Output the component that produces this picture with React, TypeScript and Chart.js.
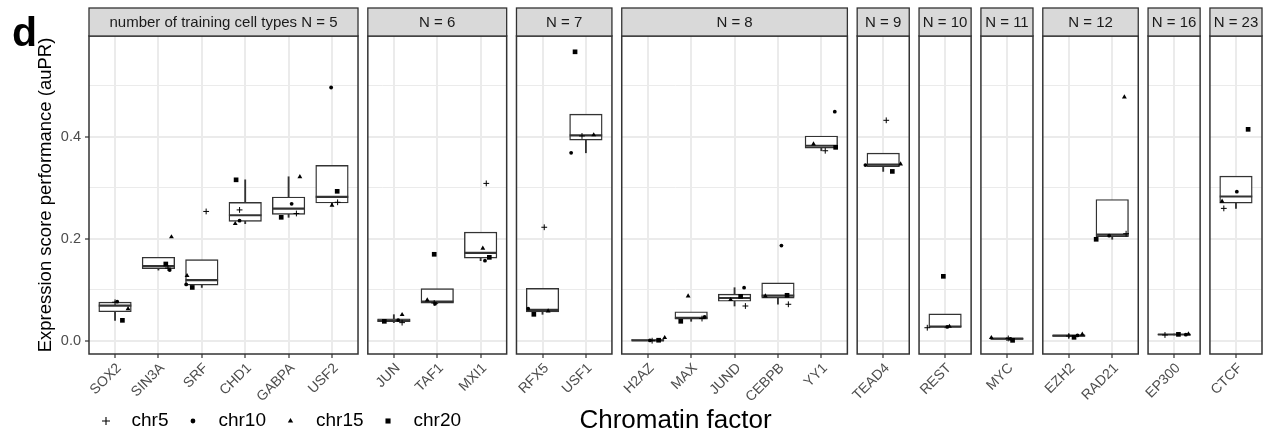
import React, { useEffect, useRef } from 'react';
import { Chart, registerables } from 'chart.js';
import { drawPoint } from 'chart.js/helpers';

Chart.register(...registerables);

// ---------------- data ----------------
const factors = ['SOX2', 'SIN3A', 'SRF', 'CHD1', 'GABPA', 'USF2', 'JUN', 'TAF1', 'MXI1', 'RFX5', 'USF1', 'H2AZ', 'MAX', 'JUND', 'CEBPB', 'YY1', 'TEAD4', 'REST', 'MYC', 'EZH2', 'RAD21', 'EP300', 'CTCF'];
const facetLabels = ['number of training cell types N = 5', 'N = 6', 'N = 7', 'N = 8', 'N = 9', 'N = 10', 'N = 11', 'N = 12', 'N = 16', 'N = 23'];
const facetSizes = [6, 3, 2, 5, 1, 1, 1, 2, 1, 1];

const seriesNames = ['chr5', 'chr10', 'chr15', 'chr20'];
const chr5 = [0.076, 0.143, 0.254, 0.257, 0.250, 0.272, 0.036, 0.0745, 0.309, 0.223, 0.402, 0.0006, 0.044, 0.0686, 0.072, 0.373, 0.4327, 0.026, 0.005, 0.0098, 0.2104, 0.0118, 0.260];
const chr10 = [0.077, 0.139, 0.111, 0.236, 0.269, 0.497, 0.041, 0.073, 0.1575, 0.0634, 0.369, 0.0012, 0.047, 0.1045, 0.187, 0.4496, 0.345, 0.0275, 0.004, 0.011, 0.2065, 0.0124, 0.2928];
const chr15 = [0.063, 0.204, 0.128, 0.230, 0.322, 0.266, 0.0516, 0.0804, 0.1817, 0.0588, 0.404, 0.0065, 0.088, 0.081, 0.0882, 0.386, 0.347, 0.0285, 0.0065, 0.013, 0.4784, 0.0137, 0.2739];
const chr20 = [0.0405, 0.151, 0.105, 0.316, 0.2425, 0.2935, 0.0386, 0.170, 0.164, 0.0523, 0.567, 0.0015, 0.0386, 0.0876, 0.0896, 0.3797, 0.3325, 0.1268, 0.0013, 0.0072, 0.1994, 0.013, 0.415];

// horizontal jitter (category units) of each point
const chr5Jitter = [0.0, 0.22, 0.10, -0.13, 0.18, 0.13, 0.19, -0.07, 0.13, 0.04, -0.09, 0.10, 0.25, 0.25, 0.24, 0.09, 0.07, -0.41, 0.03, 0.0, 0.32, -0.21, -0.28];
const chr10Jitter = [0.05, 0.26, -0.36, -0.13, 0.07, -0.02, 0.10, -0.05, 0.10, -0.33, -0.34, 0.05, 0.31, 0.22, 0.08, 0.31, -0.41, 0.05, 0.08, 0.20, -0.07, 0.27, 0.02];
const chr15Jitter = [0.30, 0.30, -0.34, -0.23, 0.26, 0.0, 0.19, -0.23, 0.05, 0.13, 0.18, 0.39, -0.07, -0.09, -0.29, -0.18, 0.40, 0.10, -0.36, 0.31, 0.28, 0.33, -0.32];
const chr20Jitter = [0.17, 0.17, -0.22, -0.21, -0.17, 0.12, -0.22, -0.07, 0.20, -0.20, -0.25, 0.25, -0.24, 0.14, 0.21, 0.33, 0.21, -0.04, 0.13, 0.12, -0.37, 0.10, 0.28];

const yTickValues = [0, 0.1, 0.2, 0.3, 0.4, 0.5];
const yMin = -0.0255;
const yMax = 0.598;

// ---------------- layout / style ----------------
const FONT = '"Liberation Sans", Arial, Helvetica, sans-serif';
const PANEL_GAP = 0.226;
const EXPAND = 0.6;
const BOX_WIDTH = 0.75;
const AREA_LEFT = 89;
const AREA_RIGHT = 1262;

const positions: number[] = [];
const panelRanges: [number, number][] = [];
{
  let cur = 0;
  facetSizes.forEach((n) => {
    panelRanges.push([cur - EXPAND, cur + n - 1 + EXPAND]);
    for (let j = 0; j < n; j++) positions.push(cur + j);
    cur += n + 0.2 + PANEL_GAP;
  });
}
const xMin = panelRanges[0][0];
const xMax = panelRanges[panelRanges.length - 1][1];
const unitPx = (AREA_RIGHT - AREA_LEFT) / (xMax - xMin);
const boxPx = BOX_WIDTH * unitPx;

const seriesStyle = [
  { pointStyle: 'cross', pointRadius: 2.9, pointBorderWidth: 1 },
  { pointStyle: 'circle', pointRadius: 1.9, pointBorderWidth: 0 },
  { pointStyle: 'triangle', pointRadius: 2.8, pointBorderWidth: 0 },
  { pointStyle: 'rect', pointRadius: 3.3, pointBorderWidth: 0 },
];
const legendGlyph = [
  { pointStyle: 'cross', radius: 4, borderWidth: 1.1 },
  { pointStyle: 'circle', radius: 2.4, borderWidth: 0 },
  { pointStyle: 'triangle', radius: 3.1, borderWidth: 0 },
  { pointStyle: 'rect', radius: 3.6, borderWidth: 0 },
];

function quantile(s: number[], p: number) {
  const h = (s.length - 1) * p;
  const lo = Math.floor(h);
  const hi = Math.ceil(h);
  return s[lo] + (h - lo) * (s[hi] - s[lo]);
}
function boxStats(vals: number[]) {
  const s = [...vals].sort((a, b) => a - b);
  const q1 = quantile(s, 0.25);
  const med = quantile(s, 0.5);
  const q3 = quantile(s, 0.75);
  const iqr = q3 - q1;
  const lo = Math.min(...s.filter((v) => v >= q1 - 1.5 * iqr));
  const hi = Math.max(...s.filter((v) => v <= q3 + 1.5 * iqr));
  return { q1, med, q3, lo, hi };
}

const facetPlugin = {
  id: 'facets',
  beforeDatasetsDraw(chart: any) {
    const { ctx, chartArea } = chart;
    const xs = chart.scales.x;
    ctx.save();
    ctx.fillStyle = '#ffffff';
    for (let i = 0; i < panelRanges.length - 1; i++) {
      const a = xs.getPixelForValue(panelRanges[i][1]);
      const b = xs.getPixelForValue(panelRanges[i + 1][0]);
      ctx.fillRect(a, chartArea.top - 1, b - a, chartArea.bottom - chartArea.top + 2);
    }
    ctx.restore();
  },
  afterDatasetsDraw(chart: any) {
    const { ctx, chartArea } = chart;
    const xs = chart.scales.x;
    ctx.save();
    panelRanges.forEach((r, i) => {
      const a = xs.getPixelForValue(r[0]);
      const b = xs.getPixelForValue(r[1]);
      ctx.strokeStyle = '#333333';
      ctx.lineWidth = 1.5;
      ctx.strokeRect(a, chartArea.top, b - a, chartArea.bottom - chartArea.top);
      const st = chartArea.top - 28;
      ctx.fillStyle = '#d9d9d9';
      ctx.fillRect(a, st, b - a, 28);
      ctx.lineWidth = 1.3;
      ctx.strokeRect(a, st, b - a, 28);
      ctx.fillStyle = '#1a1a1a';
      ctx.font = `15px ${FONT}`;
      ctx.textAlign = 'center';
      ctx.textBaseline = 'middle';
      ctx.fillText(facetLabels[i], (a + b) / 2, st + 14.5);
    });
    // panel tag
    ctx.fillStyle = '#000000';
    ctx.font = `bold 41px ${FONT}`;
    ctx.textAlign = 'left';
    ctx.textBaseline = 'alphabetic';
    ctx.fillText('d', 12, 45.5);
    // legend (shape key for the chromosome series)
    ctx.font = `19px ${FONT}`;
    ctx.textBaseline = 'middle';
    let gx = 106;
    const gy = 421;
    seriesNames.forEach((name, k) => {
      ctx.fillStyle = '#000000';
      ctx.strokeStyle = '#000000';
      ctx.lineWidth = legendGlyph[k].borderWidth;
      drawPoint(ctx, { ...legendGlyph[k], rotation: 0 } as any, gx, gy);
      const tx = gx + 25.5;
      ctx.fillStyle = '#000000';
      ctx.fillText(name, tx, gy);
      gx = tx + ctx.measureText(name).width + 24.5;
    });
    ctx.restore();
  },
};

export default function App() {
  const ref = useRef<HTMLCanvasElement>(null);
  useEffect(() => {
    const canvas = ref.current;
    if (!canvas) return;
    Chart.defaults.font.family = FONT;

    const seriesVals = [chr5, chr10, chr15, chr20];
    const seriesJit = [chr5Jitter, chr10Jitter, chr15Jitter, chr20Jitter];
    const stats = factors.map((_, i) => boxStats([chr5[i], chr10[i], chr15[i], chr20[i]]));

    const datasets: any[] = [
      {
        type: 'bar', label: 'whisker', grouped: false, order: 10,
        data: stats.map((s, i) => ({ x: positions[i], y: [s.lo, s.hi] })),
        backgroundColor: '#333333', borderWidth: 0, barThickness: 1.2,
      },
      {
        type: 'bar', label: 'box', grouped: false, order: 9,
        data: stats.map((s, i) => ({ x: positions[i], y: [s.q1, s.q3] })),
        backgroundColor: '#ffffff', borderColor: '#333333', borderWidth: 1.4, borderSkipped: false,
        barThickness: boxPx,
      },
      {
        type: 'scatter', label: 'median', order: 8,
        data: stats.map((s, i) => ({ x: positions[i], y: s.med })),
        pointStyle: 'line', pointRadius: boxPx / 2, pointBorderWidth: 2.2, pointBorderColor: '#333333',
        pointBackgroundColor: '#333333',
      },
      ...seriesNames.map((name, k) => ({
        type: 'scatter', label: name, order: k,
        data: factors.map((_, i) => ({ x: positions[i] + seriesJit[k][i], y: seriesVals[k][i] })),
        pointBackgroundColor: '#000000', pointBorderColor: '#000000',
        backgroundColor: '#000000', borderColor: '#000000',
        ...seriesStyle[k],
      })),
    ];

    const chart = new Chart(canvas, {
      type: 'bar',
      data: { datasets },
      options: {
        responsive: false,
        animation: false,
        devicePixelRatio: 1,
        events: [],
        layout: { autoPadding: false, padding: { top: 36, right: 1268 - AREA_RIGHT, bottom: 0, left: 0 } },
        plugins: {
          tooltip: { enabled: false },
          legend: { display: false },
        },
        scales: {
          x: {
            type: 'linear',
            offset: false,
            min: xMin,
            max: xMax,
            afterBuildTicks: (scale: any) => {
              scale.ticks = positions.map((v) => ({ value: v }));
            },
            afterFit: (scale: any) => {
              scale.height = 438 - 354;
              scale.paddingLeft = 0;
              scale.paddingRight = 0;
            },
            ticks: {
              autoSkip: false,
              minRotation: 45,
              maxRotation: 45,
              padding: 2,
              labelOffset: 4,
              color: '#4d4d4d',
              font: { size: 14 },
              callback: (_v: any, index: number) => factors[index],
            },
            grid: {
              offset: false,
              color: '#ebebeb',
              lineWidth: 2,
              tickColor: '#333333',
              tickLength: 4,
              tickWidth: 1.2,
            },
            border: { display: false },
            title: {
              display: true,
              text: 'Chromatin factor',
              color: '#000000',
              font: { size: 26 },
              padding: { top: 0, bottom: 1.4 },
            },
          },
          y: {
            type: 'linear',
            min: yMin,
            max: yMax,
            afterBuildTicks: (scale: any) => {
              scale.ticks = yTickValues.map((v) => ({ value: v }));
            },
            afterFit: (scale: any) => {
              scale.width = AREA_LEFT;
              scale.paddingTop = 0;
              scale.paddingBottom = 0;
            },
            ticks: {
              padding: 4,
              color: '#4d4d4d',
              font: { size: 14.5 },
              callback: (v: any) => {
                const n = Number(v);
                return Math.round(n * 10) % 2 === 0 ? n.toFixed(1) : '';
              },
            },
            grid: {
              color: '#ebebeb',
              lineWidth: (c: any) => (c.tick && Math.round(c.tick.value * 10) % 2 === 1 ? 1 : 2),
              tickColor: (c: any) => (c.tick && Math.round(c.tick.value * 10) % 2 === 1 ? 'rgba(0,0,0,0)' : '#333333'),
              tickLength: 4,
              tickWidth: 1.2,
            },
            border: { display: false },
            title: {
              display: true,
              text: 'Expression score performance (auPR)',
              color: '#000000',
              font: { size: 18.5 },
              padding: { top: 34.4, bottom: 0 },
            },
          },
        },
      },
      plugins: [facetPlugin],
    } as any);
    return () => chart.destroy();
  }, []);

  return (
    <div style={{ position: 'fixed', left: 0, top: 0, width: 1268, height: 438, background: '#ffffff' }}>
      <canvas ref={ref} width={1268} height={438} style={{ display: 'block' }} />
    </div>
  );
}
